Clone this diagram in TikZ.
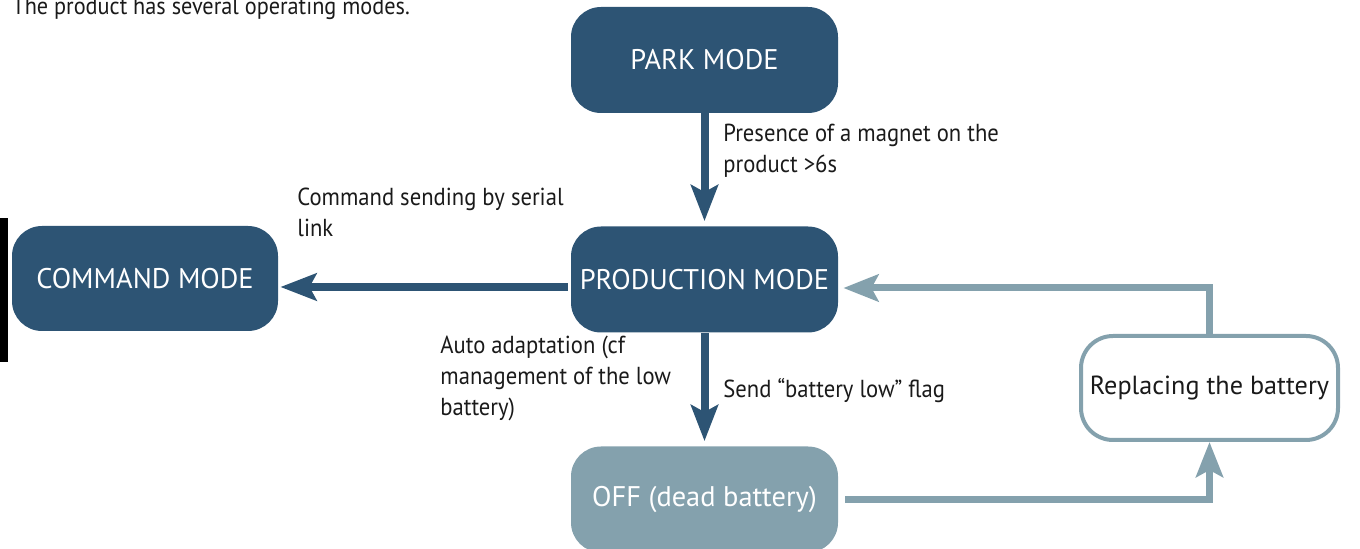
\documentclass[tikz,border=0pt]{standalone}
\usepackage{fontspec}
\setmainfont{PT Sans}
\newfontfamily\lblfont[FakeStretch=0.92]{PT Sans}
\usetikzlibrary{arrows.meta}
\definecolor{dkblue}{HTML}{2D5474}
\definecolor{ltblue}{HTML}{84A1AD}
\definecolor{txt}{HTML}{1A1A1A}
\begin{document}
\begin{tikzpicture}[x=0.5pt,y=-0.5pt,
  mode/.style={rounded corners=15pt, minimum width=133.5pt, minimum height=53pt,
    fill=dkblue, text=white, font=\fontsize{14.2}{16}\selectfont, inner sep=0},
  lbl/.style={anchor=north west, inner sep=0, align=left, text=txt,
    font=\lblfont\fontsize{12.3}{15.5}\selectfont},
  darr/.style={draw=dkblue, line width=4pt, -{Stealth[length=18pt,width=13.5pt,inset=3.5pt]}},
  larr/.style={draw=ltblue, line width=3.5pt, -{Stealth[length=17.5pt,width=13.5pt,inset=3.5pt]}}
]
\useasboundingbox (0,0) rectangle (1360,549);
% left black bar
\fill[black] (0,218) rectangle (8,362);
% intro text (cut at top)
\node[anchor=base west, inner sep=0, text=txt, font=\lblfont\fontsize{12.1}{15.5}\selectfont] (intro) at (12,15) {The product has several operating modes.};
% nodes
\node[mode] (park) at (704.5,60) {PARK MODE};
\node[mode] (prod) at (704.5,279.5) {PRODUCTION MODE};
\node[mode, minimum width=133pt, minimum height=52.5pt] (cmd) at (145,278.5) {COMMAND MODE};
\node[mode, fill=ltblue] (off) at (704.5,499.5) {OFF (dead battery)};
\node[rounded corners=16pt, draw=ltblue, line width=2pt, fill=white, text=txt,
  minimum width=128.5pt, minimum height=52pt, inner sep=0,
  font=\fontsize{13.1}{16}\selectfont] (repl) at (1209.5,388) {Replacing the battery};
% labels
\node[lbl] (lpres) at (723,124) {Presence of a magnet on the\\product >6s};
\node[lbl] (lcmd) at (297,188) {Command sending by serial\\link};
\node[lbl] (lauto) at (440,336) {Auto adaptation (cf\\management of the low\\battery)};
\node[lbl] (lsend) at (723,378) {Send “battery low” flag};
% connectors
\draw[darr, shorten >=2.5pt] (park.south) -- (prod.north);
\draw[darr, shorten >=2.5pt] (prod.south) -- (off.north);
\draw[darr, shorten <=1.5pt, shorten >=1pt] ([yshift=-3.75pt]prod.west) -- ([yshift=-4.25pt]cmd.east);
\draw[larr, shorten >=2.5pt] (repl.north) |- ([yshift=-4.25pt]prod.east);
\draw[larr, shorten <=3.5pt] (off.east) -| (repl.south);
\end{tikzpicture}
\end{document}
